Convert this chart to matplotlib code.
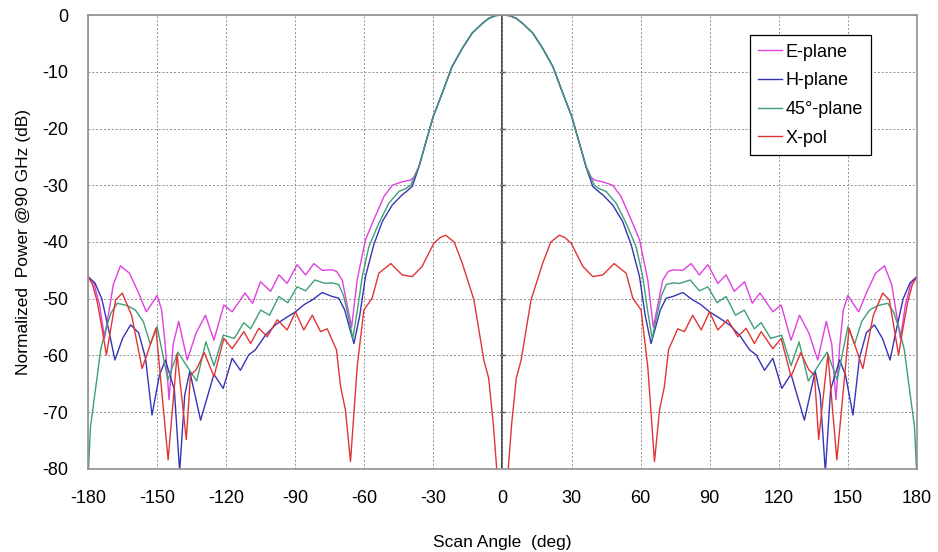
import numpy as np
import matplotlib
matplotlib.use("Agg")
import matplotlib.pyplot as plt

plt.rcParams['font.family'] = ['Liberation Sans', 'DejaVu Sans']
plt.rcParams['axes.unicode_minus'] = False

# right half of the (symmetric) patterns: angle (deg), power (dB)
e_ang = [0, 3, 6, 8.8, 13.2, 17.5, 21.9, 26.2, 30.1, 33.4, 36.3, 38.5, 40, 43.6, 47.9, 51.5,
         55.9, 59.5, 63.1, 65.5, 67.5, 69.6, 72, 74, 78.3, 81.9, 85.5, 89.2, 93.5, 97.1, 100.7,
         105.1, 108.5, 111.8, 117.4, 121, 125.3, 129, 133, 136.9, 140.6, 143, 144.8, 146.5,
         148, 150, 152.5, 154.7, 158, 162, 165.9, 169, 171, 172.8, 175, 177.5, 180]
e_db = [0, -0.1, -0.6, -1.5, -3.2, -5.9, -9.1, -13.8, -17.9, -22.6, -26.7, -28.6, -29.1, -29.4,
        -30, -32, -36.1, -39.6, -46.7, -55, -51, -46.7, -45.2, -44.9, -45, -43.8, -45.8, -44,
        -47.3, -45.8, -48.7, -47, -50.8, -49, -52.3, -51.1, -57.3, -52.9, -56, -60.8, -54, -58,
        -67.8, -58, -52, -49.4, -51, -52.3, -49, -45.5, -44.2, -47.5, -52.5, -57, -51, -47.2, -46.1]

h_ang = [0, 3, 6, 8.8, 13.2, 17.5, 21.9, 26.2, 30.1, 33.4, 36.3, 39.2, 42, 43.6, 47.9, 52.2,
         55.9, 59.5, 62, 64.5, 66.5, 68.5, 71.1, 74, 78.3, 82.6, 86, 89.9, 94.2, 98.6, 102.9,
         107.3, 110.2, 113.8, 117.4, 121.3, 125.3, 131.1, 135.8, 138, 140.2, 142.5, 146.4, 149,
         152.2, 155, 158, 161.5, 165, 168.3, 171, 174, 177, 180]
h_db = [0, -0.1, -0.6, -1.5, -3.2, -5.9, -9.1, -13.8, -17.9, -22.6, -26.8, -30.2, -31.2, -31.7,
        -33.5, -36.4, -40.5, -46.1, -53, -57.9, -55, -52, -49.9, -49.6, -48.9, -50.2, -51, -52.3,
        -53.4, -54.6, -56.4, -59, -59.9, -62.6, -60.5, -65.8, -63.3, -71.4, -62.8, -67, -80.5,
        -66, -60.8, -63.5, -70.5, -60.5, -56, -54.6, -57, -60.8, -55.5, -50, -47.2, -46.1]

d_ang = [0, 3, 6, 8.8, 13.2, 17.5, 21.9, 26.2, 30.1, 33.4, 36.3, 39.9, 42, 45, 49.4, 53.7, 58,
         60.9, 63, 65, 67, 69, 71.1, 74, 76.9, 81.5, 85.5, 89.2, 93.2, 97.1, 101.2, 105, 109.4,
         112.3, 116.5, 121.2, 125.3, 128.8, 132.8, 135.7, 141, 145.3, 150, 152.9, 156, 159.4,
         163, 167.3, 170, 172.4, 174.5, 176, 178.9, 180]
d_db = [0, -0.1, -0.6, -1.5, -3.2, -5.9, -9.1, -13.8, -17.9, -22.6, -26.7, -30, -30.6, -31.1,
        -33.2, -36.7, -40.8, -46.1, -52, -57, -53, -49.5, -47.5, -47.2, -47.3, -46.7, -48.6,
        -47.9, -50.7, -49.6, -52.9, -52, -55.3, -54.2, -57, -56.4, -61.8, -57.6, -64.5, -62.7,
        -59.4, -64.3, -54.9, -58, -54, -52, -51.2, -50.8, -52.5, -55.5, -59, -63.7, -72.5, -82]

x_ang = [0, 2.5, 4, 6, 8.1, 12.4, 17.5, 21, 24.7, 27, 29.8, 34.9, 39.2, 43.6, 48.5, 53.7, 56.6,
         60.2, 63.1, 66, 68.2, 70.3, 72.1, 76.1, 79, 82.6, 86.3, 89.9, 93.5, 97.8, 102.2, 105.8,
         109.4, 112.3, 117.4, 121, 125.3, 129.5, 133, 135.5, 137.3, 141.3, 145.2, 150.5, 156.5,
         161, 165.1, 168, 172, 174, 176, 178, 180]
x_db = [-110, -80, -72, -64, -60.8, -50.2, -43.7, -40, -38.8, -39.2, -40.2, -44.3, -46.1, -45.8,
        -43.8, -45.5, -49.9, -52, -62, -78.7, -69.6, -65.5, -59, -55.3, -55.8, -52.9, -55.5,
        -52.3, -55.5, -53.7, -56.7, -55.2, -57.9, -55.8, -58.8, -57, -63.7, -59.5, -62.5, -63.5,
        -74.8, -59.8, -78.4, -55.2, -62.3, -53, -49, -50.2, -59.9, -55, -50.5, -47.5, -46.1]

labels = ['E-plane', 'H-plane', '45°-plane', 'X-pol']
colors = ['#e040e0', '#3535b5', '#3f9f75', '#e03535']


def full(ang, db):
    # pattern is symmetric about 0 deg
    a = np.array(ang, dtype=float)
    d = np.array(db, dtype=float)
    return np.concatenate([-a[:0:-1], a]), np.concatenate([d[:0:-1], d])


fig = plt.figure(figsize=(9.38, 5.52), dpi=100)
ax = fig.add_axes([0.0938, 0.1504, 0.8838, 0.8224])

for (ang, db), lab, c in zip([(e_ang, e_db), (h_ang, h_db), (d_ang, d_db), (x_ang, x_db)], labels, colors):
    xa, ya = full(ang, db)
    ax.plot(xa, ya, color=c, lw=1.0, label=lab)

ax.set_xlim(-180, 180)
ax.set_ylim(-80, 0)
ax.set_xticks(np.arange(-180, 181, 30))
ax.set_yticks(np.arange(-80, 1, 10))
ax.grid(True, color='#909090', ls=(0, (2, 2)), lw=0.7)
ax.axvline(0, color='#404040', lw=1.3, zorder=1)
for v in np.arange(-70, 0, 10):
    ax.plot([-1.2, 1.2], [v, v], color='#404040', lw=1.0, zorder=1)
for s in ax.spines.values():
    s.set_color('#909090')
    s.set_linewidth(1.2)
ax.tick_params(length=0, labelsize=13, pad=14)
ax.tick_params(axis='x', pad=15)

ax.set_xlabel('Scan Angle  (deg)', fontsize=12.5, labelpad=20)
ax.set_ylabel('Normalized  Power @90 GHz (dB)', fontsize=12.5, labelpad=8)

leg = ax.legend(loc='upper right', bbox_to_anchor=(0.955, 0.975), fontsize=13,
                handlelength=1.3, handletextpad=0.2, borderpad=0.45, labelspacing=0.65,
                fancybox=False, framealpha=1)
leg.get_frame().set_edgecolor('black')
leg.get_frame().set_linewidth(0.9)

fig.savefig('out.png', dpi=100)
